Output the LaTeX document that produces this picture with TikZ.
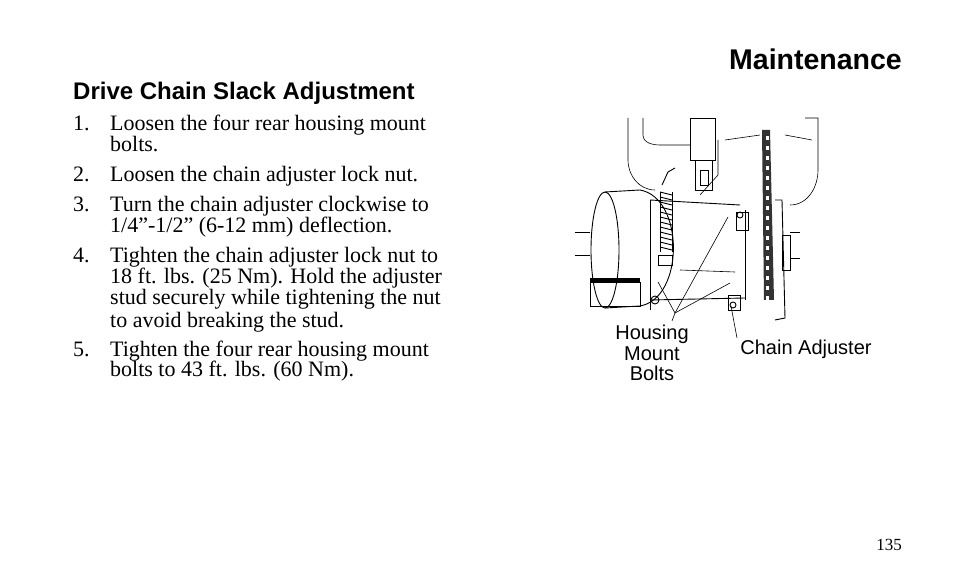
\documentclass[tikz,border=0pt]{standalone}
\usepackage{fontspec}
\setmainfont{Liberation Serif}
\newfontfamily\hsans{Liberation Sans}
\begin{document}
\begin{tikzpicture}[x=1pt,y=-1pt,
 body/.style={anchor=base west,inner sep=0,font=\fontsize{22}{21}\selectfont},
 num/.style={anchor=base west,inner sep=0,font=\fontsize{22}{21}\selectfont},
 lab/.style={inner sep=0,font=\hsans\fontsize{20}{20.5}\selectfont,align=center},
 ln/.style={line width=0.9pt},
 thin/.style={line width=0.6pt}]
\useasboundingbox[fill=white] (0,0) rectangle (954,588);
\node[anchor=base east,inner sep=0,font=\hsans\bfseries\fontsize{28.5}{30}\selectfont] (title) at (902,70) {Maintenance};
\node[anchor=base west,inner sep=0,font=\hsans\bfseries\fontsize{24}{24}\selectfont] (sub) at (73,100) {Drive Chain Slack Adjustment};
\node[num] (n1) at (73,131) {1.};
\node[body] (t1a) at (110,131) {Loosen the four rear housing mount};
\node[body] (t1b) at (110,152) {bolts.};
\node[num] (n2) at (73,182) {2.};
\node[body] (t2) at (110,182) {Loosen the chain adjuster lock nut.};
\node[num] (n3) at (73,212) {3.};
\node[body] (t3a) at (110,212) {Turn the chain adjuster clockwise to};
\node[body] (t3b) at (110,233) {1/4\symbol{34}-1/2\symbol{34} (6-12 mm) deflection.};
\node[num] (n4) at (73,263) {4.};
\node[body] (t4a) at (110,263) {Tighten the chain adjuster lock nut to};
\node[body] (t4b) at (110,284) {18 ft. lbs. (25 Nm). Hold the adjuster};
\node[body] (t4c) at (110,305) {stud securely while tightening the nut};
\node[body] (t4d) at (110,327) {to avoid breaking the stud.};
\node[num] (n5) at (73,356) {5.};
\node[body] (t5a) at (110,356) {Tighten the four rear housing mount};
\node[body] (t5b) at (110,377) {bolts to 43 ft. lbs. (60 Nm).};
\node[anchor=base east,inner sep=0,font=\fontsize{17}{20}\selectfont] (pg) at (902,550) {135};
% illustration
\draw[thin] (628,118) -- (628,160) to[out=-90,in=180] (655,190);
\draw[thin] (643,118) -- (643,135) to[out=-90,in=180] (660,145) -- (690,145);
\draw[thin] (805,118) -- (818,118) -- (818,170) to[out=-90,in=0] (790,205);
\draw[thin] (725,140) -- (760,135) (785,135) -- (812,140);
\draw[thin] (718,140) -- (718,175) -- (700,195);
\draw[ln] (690,118) rectangle (715,160);
\draw[ln] (695,160) rectangle (712,190);
\draw[thin] (700,170) rectangle (708,185);
\draw[thin] (575,232) -- (590,232) (575,255) -- (590,255);
\draw[thin] (790,232) -- (800,232) (790,258) -- (800,258);
\draw[ln] (605,250) ellipse (14 and 58);
\draw[ln] (605,192) -- (640,190) (605,308) -- (640,306);
\draw[ln] (640,190) to[out=-10,in=10] (640,306);
\draw[ln] (650,200) -- (740,205) (650,300) -- (745,298);
\draw[ln] (650,200) -- (650,310) (745,210) -- (745,300);
\draw[thin] (680,270) -- (735,272);
\fill (590,278) rectangle (640,282);
\draw[thin] (590,282) rectangle (640,306);
\draw[ln] (662,185) -- (668,172) -- (675,168);
\foreach \i in {0,...,11} \draw[ln] (660,{192+5*\i}) -- (672,{195+5*\i});
\draw[ln] (660,192) -- (660,252) (672,192) -- (672,252);
\draw[ln] (658,255) rectangle (672,265);
\draw[ln] (655,300) circle (4);
\draw[ln] (736,212) rectangle (748,230);
\draw[ln] (740,215) circle (3);
\draw[ln] (728,295) rectangle (740,310);
\draw[ln] (733,305) circle (3);
\draw[ln] (775,200) -- (782,200) -- (785,318) -- (775,320);
\fill[black!80] (762,130) -- (770,130) -- (774,300) -- (764,300) -- cycle;
\foreach \i in {0,...,16} \fill[white] (766,{136+10*\i}) rectangle (769,{140+10*\i});
\draw[thin] (782,235) rectangle (790,270);
\coordinate (apex) at (675,313);
\node[lab] (hmb) at (652,353) {Housing\\Mount\\Bolts};
\node[lab,anchor=base] (ca) at (806,355) {Chain Adjuster};
\draw[thin] (apex) -- (658,282);
\draw[thin] (apex) -- (728,217);
\draw[thin] (apex) -- (730,283);
\draw[thin] (hmb.north) ++(20,-4) -- (apex);
\coordinate (adj) at (731,306);
\draw[thin] (737,338) -- (adj);
\end{tikzpicture}
\end{document}
